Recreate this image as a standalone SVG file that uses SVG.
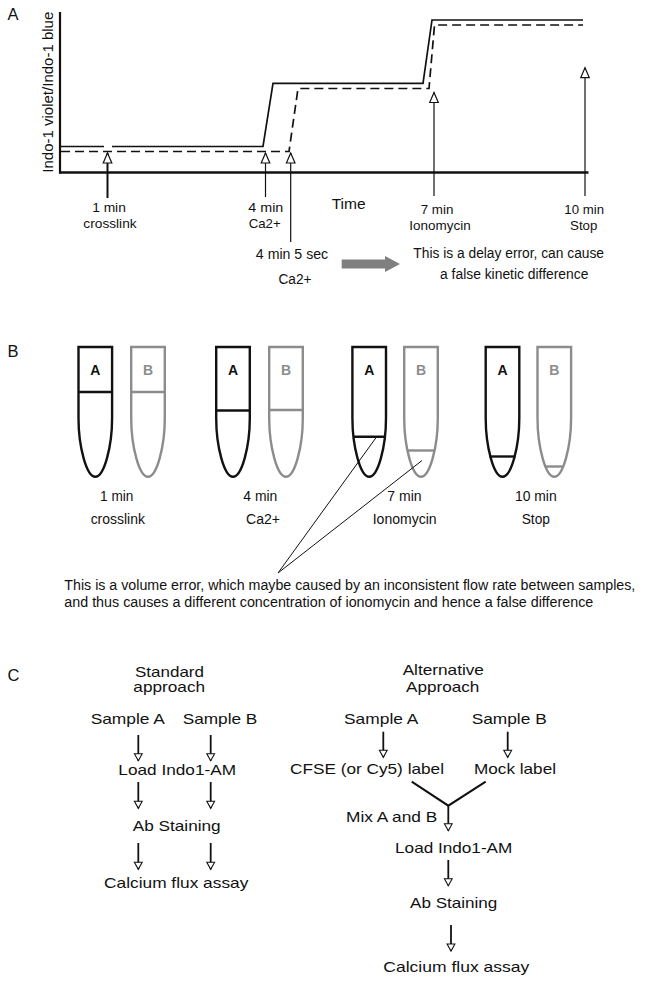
<svg xmlns="http://www.w3.org/2000/svg" width="645" height="982" viewBox="0 0 645 982">
<defs>
<style>
text{font-family:"Liberation Sans",Arial,sans-serif;fill:#111}
.t14{font-size:14px}
.t13{font-size:13.5px}
.t15{font-size:15px}
.pl{font-size:16.5px}
.lbl{font-size:15.5px}
.mid{text-anchor:middle}
.ax{stroke:#111;stroke-width:2.2;fill:none}
.cs{stroke:#111;stroke-width:1.7;fill:none}
.cd{stroke:#111;stroke-width:1.7;fill:none;stroke-dasharray:9 5}
.sh{stroke:#111;stroke-width:1.2;fill:none}
.shk{stroke:#111;stroke-width:2;fill:none}
.shc{stroke:#111;stroke-width:1.8;fill:none}
.tubeA{stroke:#111;stroke-width:2.4;fill:#fff}
.tubeB{stroke:#8c8c8c;stroke-width:2.4;fill:#fff}
.divA{stroke:#111;stroke-width:2.4}
.divB{stroke:#8c8c8c;stroke-width:2.4}
.tA{font-size:14px;font-weight:bold;text-anchor:middle;fill:#111}
.tB{font-size:14px;font-weight:bold;text-anchor:middle;fill:#8c8c8c}
.call{stroke:#111;stroke-width:1;fill:none}
</style>
<marker id="hA" markerUnits="userSpaceOnUse" markerWidth="12" markerHeight="11" refX="10.5" refY="5" orient="auto" overflow="visible">
<path d="M0.5,0.7 L10.5,5 L0.5,9.3 Z" fill="#fff" stroke="#111" stroke-width="1.2"/>
</marker>
<marker id="hC" markerUnits="userSpaceOnUse" markerWidth="10" markerHeight="10" refX="7.5" refY="4.5" orient="auto" overflow="visible">
<path d="M0.5,0.6 L7.5,4.5 L0.5,8.4 Z" fill="#fff" stroke="#111" stroke-width="1.1"/>
</marker>
</defs>
<rect width="645" height="982" fill="#fff"/>

<!-- Panel A -->
<g id="panelA">
<text x="7.5" y="20" class="pl">A</text>
<g id="axes">
<line x1="60" y1="12" x2="60" y2="173.5" class="ax"/>
<line x1="59" y1="172.5" x2="588.5" y2="172.5" class="ax" style="stroke-width:2.5"/>
</g>
<text class="lbl mid" transform="translate(52.5,92.2) rotate(-90)" textLength="161" lengthAdjust="spacingAndGlyphs">Indo-1 violet/Indo-1 blue</text>
<g id="curveSolid">
<path d="M61,146.5 H104 M112,146.5 H263 L273,83.3 H423 L432,20 H583" class="cs"/>
</g>
<g id="curveDashed">
<path d="M61,151.5 H289 L298,88.5 H429 L434.5,25 H583" class="cd"/>
</g>
<g id="arrowsA">
<line x1="107.5" y1="198" x2="107.5" y2="153" class="shk" marker-end="url(#hA)"/>
<line x1="265.5" y1="197" x2="265.5" y2="153" class="sh" marker-end="url(#hA)"/>
<line x1="290.7" y1="242" x2="290.7" y2="153" class="sh" marker-end="url(#hA)"/>
<line x1="434" y1="196" x2="434" y2="92.5" class="sh" marker-end="url(#hA)"/>
<line x1="585" y1="196" x2="585" y2="67.7" class="sh" marker-end="url(#hA)"/>
</g>
<g id="labelsA" class="t13">
<text x="109" y="212" class="mid" textLength="33.7" lengthAdjust="spacingAndGlyphs">1 min</text>
<text x="110" y="228" class="mid" textLength="53.3" lengthAdjust="spacingAndGlyphs">crosslink</text>
<text x="265.8" y="212" class="mid" textLength="35" lengthAdjust="spacingAndGlyphs">4 min</text>
<text x="264.7" y="227.5" class="mid" textLength="32" lengthAdjust="spacingAndGlyphs">Ca2+</text>
<text x="292" y="259" class="mid t14" textLength="72.3" lengthAdjust="spacingAndGlyphs">4 min 5 sec</text>
<text x="295" y="283.5" class="mid t14" textLength="33" lengthAdjust="spacingAndGlyphs">Ca2+</text>
<text x="348.7" y="209" class="mid" style="font-size:15px" textLength="34" lengthAdjust="spacingAndGlyphs">Time</text>
<text x="437" y="214" class="mid" textLength="32.7" lengthAdjust="spacingAndGlyphs">7 min</text>
<text x="440" y="229.5" class="mid" textLength="61.3" lengthAdjust="spacingAndGlyphs">Ionomycin</text>
<text x="584.2" y="214" class="mid" textLength="39.7" lengthAdjust="spacingAndGlyphs">10 min</text>
<text x="583.7" y="229.5" class="mid" textLength="27.3" lengthAdjust="spacingAndGlyphs">Stop</text>
<text x="508.7" y="257.5" class="mid t14" textLength="190.7" lengthAdjust="spacingAndGlyphs">This is a delay error, can cause</text>
<text x="514.2" y="278.5" class="mid t14" textLength="148.3" lengthAdjust="spacingAndGlyphs">a false kinetic difference</text>
</g>
<g id="grayArrow">
<path d="M341.7,259.5 H385 V256 L400,264 L385,272 V268.5 H341.7 Z" fill="#7f7f7f"/>
</g>
</g>

<!-- Panel B -->
<g id="panelB">
<text x="7.5" y="357" class="pl">B</text>
<g id="tube1A">
<path d="M78.5,347 H112.1 V418 C112.1,446 104.3,476.8 95.3,476.8 C86.3,476.8 78.5,446 78.5,418 Z" class="tubeA"/>
<line x1="78.5" y1="392" x2="112.1" y2="392" class="divA"/>
<text x="95.3" y="375" class="tA">A</text>
</g>
<g id="tube1B">
<path d="M131.2,347 H164.8 V418 C164.8,446 157,476.8 148,476.8 C139,476.8 131.2,446 131.2,418 Z" class="tubeB"/>
<line x1="131.2" y1="392" x2="164.8" y2="392" class="divB"/>
<text x="148" y="375" class="tB">B</text>
</g>
<g id="tube2A">
<path d="M216.2,347 H249.8 V418 C249.8,446 242,476.8 233,476.8 C224,476.8 216.2,446 216.2,418 Z" class="tubeA"/>
<line x1="216.2" y1="410.5" x2="249.8" y2="410.5" class="divA"/>
<text x="233" y="375" class="tA">A</text>
</g>
<g id="tube2B">
<path d="M269.2,347 H302.8 V418 C302.8,446 295,476.8 286,476.8 C277,476.8 269.2,446 269.2,418 Z" class="tubeB"/>
<line x1="269.2" y1="410" x2="302.8" y2="410" class="divB"/>
<text x="286" y="375" class="tB">B</text>
</g>
<g id="tube3A">
<path d="M352.4,347 H386 V418 C386,446 378.2,476.8 369.2,476.8 C360.2,476.8 352.4,446 352.4,418 Z" class="tubeA"/>
<line x1="353.3" y1="436.7" x2="385.1" y2="436.7" class="divA"/>
<text x="369.2" y="375" class="tA">A</text>
</g>
<g id="tube3B">
<path d="M404.2,347 H437.8 V418 C437.8,446 430,476.8 421,476.8 C412,476.8 404.2,446 404.2,418 Z" class="tubeB"/>
<line x1="406.8" y1="450.5" x2="435.2" y2="450.5" class="divB"/>
<text x="421" y="375" class="tB">B</text>
</g>
<g id="tube4A">
<path d="M485.7,347 H519.3 V418 C519.3,446 511.5,476.8 502.5,476.8 C493.5,476.8 485.7,446 485.7,418 Z" class="tubeA"/>
<line x1="489.5" y1="456.5" x2="515.5" y2="456.5" class="divA"/>
<text x="502.5" y="375" class="tA">A</text>
</g>
<g id="tube4B">
<path d="M537.5,347 H571.1 V418 C571.1,446 563.3,476.8 554.3,476.8 C545.3,476.8 537.5,446 537.5,418 Z" class="tubeB"/>
<line x1="545.3" y1="466.5" x2="563.3" y2="466.5" class="divB"/>
<text x="554.3" y="375" class="tB">B</text>
</g>
<g id="labelsB" class="t14">
<text x="116.7" y="500.7" class="mid" textLength="33.3" lengthAdjust="spacingAndGlyphs">1 min</text>
<text x="117.8" y="523.5" class="mid" textLength="54.3" lengthAdjust="spacingAndGlyphs">crosslink</text>
<text x="260.3" y="500.7" class="mid" textLength="34" lengthAdjust="spacingAndGlyphs">4 min</text>
<text x="263" y="523.5" class="mid" textLength="34" lengthAdjust="spacingAndGlyphs">Ca2+</text>
<text x="404.5" y="500.7" class="mid" textLength="34.3" lengthAdjust="spacingAndGlyphs">7 min</text>
<text x="404.7" y="523.5" class="mid" textLength="64" lengthAdjust="spacingAndGlyphs">Ionomycin</text>
<text x="535.8" y="500.7" class="mid" textLength="41.7" lengthAdjust="spacingAndGlyphs">10 min</text>
<text x="535.8" y="523.5" class="mid" textLength="28.3" lengthAdjust="spacingAndGlyphs">Stop</text>
</g>
<g id="callouts">
<line x1="376.5" y1="437" x2="278" y2="573" class="call"/>
<line x1="422" y1="460.5" x2="278" y2="573" class="call"/>
</g>
<g id="noteB" class="t14">
<text x="64.3" y="590" textLength="571" lengthAdjust="spacingAndGlyphs">This is a volume error, which maybe caused by an inconsistent flow rate between samples,</text>
<text x="64.3" y="607" textLength="529" lengthAdjust="spacingAndGlyphs">and thus causes a different concentration of ionomycin and hence a false difference</text>
</g>
</g>

<!-- Panel C -->
<g id="panelC" class="t15">
<text x="7.5" y="680.5" class="pl">C</text>
<g id="stdTitle">
<text x="169.5" y="676.5" class="mid" style="font-size:14.5px" textLength="69" lengthAdjust="spacingAndGlyphs">Standard</text>
<text x="169.2" y="692" class="mid" style="font-size:14.5px" textLength="71.7" lengthAdjust="spacingAndGlyphs">approach</text>
</g>
<g id="stdSampleA"><text x="127.8" y="724.3" class="mid" textLength="74.3" lengthAdjust="spacingAndGlyphs">Sample A</text></g>
<g id="stdSampleB"><text x="220" y="724.3" class="mid" textLength="74.7" lengthAdjust="spacingAndGlyphs">Sample B</text></g>
<g id="stdLoad"><text x="177.2" y="775" class="mid" textLength="117.7" lengthAdjust="spacingAndGlyphs">Load Indo1-AM</text></g>
<g id="stdAb"><text x="176.7" y="830.7" class="mid" textLength="88" lengthAdjust="spacingAndGlyphs">Ab Staining</text></g>
<g id="stdCa"><text x="176.2" y="887.5" class="mid" textLength="144.3" lengthAdjust="spacingAndGlyphs">Calcium flux assay</text></g>

<g id="altTitle">
<text x="443.3" y="675" class="mid" style="font-size:14.5px" textLength="81.3" lengthAdjust="spacingAndGlyphs">Alternative</text>
<text x="442.7" y="692" class="mid" style="font-size:14.5px" textLength="73.3" lengthAdjust="spacingAndGlyphs">Approach</text>
</g>
<g id="altSampleA"><text x="381.2" y="724.3" class="mid" textLength="74.3" lengthAdjust="spacingAndGlyphs">Sample A</text></g>
<g id="altSampleB"><text x="509.2" y="724.3" class="mid" textLength="75" lengthAdjust="spacingAndGlyphs">Sample B</text></g>
<g id="altCFSE"><text x="367" y="774" class="mid" textLength="154" lengthAdjust="spacingAndGlyphs">CFSE (or Cy5) label</text></g>
<g id="altMock"><text x="515" y="774" class="mid" textLength="82" lengthAdjust="spacingAndGlyphs">Mock label</text></g>
<g id="altMix"><text x="437.3" y="822.3" text-anchor="end" textLength="91.3" lengthAdjust="spacingAndGlyphs">Mix A and B</text></g>
<g id="altLoad"><text x="453.7" y="853.3" class="mid" textLength="117.3" lengthAdjust="spacingAndGlyphs">Load Indo1-AM</text></g>
<g id="altAb"><text x="453.7" y="908.3" class="mid" textLength="87.3" lengthAdjust="spacingAndGlyphs">Ab Staining</text></g>
<g id="altCa"><text x="456.3" y="971.7" class="mid" textLength="146" lengthAdjust="spacingAndGlyphs">Calcium flux assay</text></g>

<g id="connectors">
<line x1="138.3" y1="735" x2="138.3" y2="760.7" class="shc" marker-end="url(#hC)"/>
<line x1="210.7" y1="735" x2="210.7" y2="760.7" class="shc" marker-end="url(#hC)"/>
<line x1="138.3" y1="782" x2="138.3" y2="808.3" class="shc" marker-end="url(#hC)"/>
<line x1="210.7" y1="782" x2="210.7" y2="808.3" class="shc" marker-end="url(#hC)"/>
<line x1="138.3" y1="843" x2="138.3" y2="869.3" class="shc" marker-end="url(#hC)"/>
<line x1="210.7" y1="843" x2="210.7" y2="869.3" class="shc" marker-end="url(#hC)"/>
<line x1="383.3" y1="731.7" x2="383.3" y2="757.3" class="shc" marker-end="url(#hC)"/>
<line x1="507.7" y1="731.7" x2="507.7" y2="757.3" class="shc" marker-end="url(#hC)"/>
<path d="M411.7,781.7 L448.3,805.7 L485.7,781.7" class="shc" style="stroke-width:2"/>
<line x1="448.3" y1="805.7" x2="448.3" y2="830.7" class="shc" marker-end="url(#hC)"/>
<line x1="448.3" y1="860" x2="448.3" y2="885.7" class="shc" marker-end="url(#hC)"/>
<line x1="451" y1="925" x2="451" y2="951" class="shc" marker-end="url(#hC)"/>
</g>
</g>
</svg>
